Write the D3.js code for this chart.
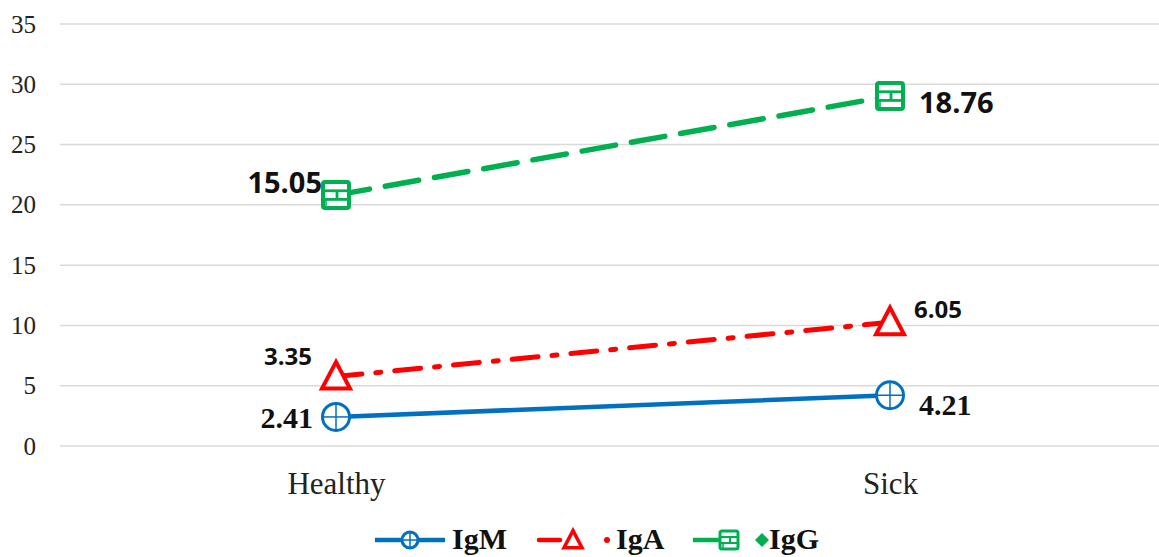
<!DOCTYPE html>
<html><head><meta charset="utf-8">
<script src="https://cdn.jsdelivr.net/npm/d3@7/dist/d3.min.js"></script>
<style>body{margin:0;background:#fff}</style></head>
<body><svg id="c" width="1159" height="557"></svg>
<script>
const categories = ["Healthy", "Sick"];
const igM = [2.41, 4.21];
const igA = [3.35, 6.05];
const igG = [15.05, 18.76];
const yTicks = [0, 5, 10, 15, 20, 25, 30, 35];

const svg = d3.select("#c");
const x = d3.scalePoint().domain(categories).range([336, 890]);
const y = d3.scaleLinear().domain([0, 35]).range([446, 24]);

// grid
svg.append("g").selectAll("line").data(yTicks).join("line")
  .attr("x1", 60).attr("x2", 1159)
  .attr("y1", d => y(d)).attr("y2", d => y(d))
  .attr("stroke", "#d9d9d9").attr("stroke-width", 1.5);

const yAxis = d3.axisLeft(y).tickValues(yTicks).tickSize(0).tickPadding(0);
const ga = svg.append("g").attr("transform", "translate(36,0)").call(yAxis);
ga.select(".domain").remove();
ga.selectAll("text").attr("font-family", "Liberation Serif").attr("font-size", 25).attr("fill", "#222").attr("dy", "0.32em");

const xAxis = d3.axisBottom(x).tickSize(0).tickPadding(0);
const gx = svg.append("g").attr("transform", "translate(0,484)").call(xAxis);
gx.select(".domain").remove();
gx.selectAll("text").attr("font-family", "Liberation Serif").attr("font-size", 31).attr("fill", "#222").attr("dy", "0.32em");

// stacked
const cumM = igM.slice();
const cumA = igA.map((v, i) => v + cumM[i]);
const cumG = igG.map((v, i) => v + cumA[i]);

const series = [
  {name: "IgM", vals: igM, cum: cumM, color: "#0070C0", dash: null, w: 4.5},
  {name: "IgA", vals: igA, cum: cumA, color: "#FF0000", dash: "26,14,5,14", w: 5},
  {name: "IgG", vals: igG, cum: cumG, color: "#00B050", dash: "34,16", w: 5.5}
];

const line = d3.line().x((d, i) => x(categories[i])).y(d => y(d));
series.forEach(s => {
  svg.append("path").attr("d", line(s.cum)).attr("fill", "none")
    .attr("stroke", s.color).attr("stroke-width", s.w)
    .attr("stroke-dasharray", s.dash).attr("stroke-linecap", "round");
});

function circleMarker(g, cx, cy, r, sw) {
  g.append("circle").attr("cx", cx).attr("cy", cy).attr("r", r).attr("fill", "#fff").attr("stroke", "#0070C0").attr("stroke-width", sw);
  g.append("line").attr("x1", cx - r).attr("x2", cx + r).attr("y1", cy).attr("y2", cy).attr("stroke", "#0070C0").attr("stroke-width", 1.5);
  g.append("line").attr("x1", cx).attr("x2", cx).attr("y1", cy - r).attr("y2", cy + r).attr("stroke", "#0070C0").attr("stroke-width", 1.5);
}
function triMarker(g, cx, cy, s, sw) {
  const h = s * 0.95;
  g.append("path").attr("d", `M${cx},${cy - h * 0.55}L${cx + s / 2},${cy + h * 0.45}L${cx - s / 2},${cy + h * 0.45}Z`)
    .attr("fill", "#fff").attr("stroke", "#FF0000").attr("stroke-width", sw).attr("stroke-linejoin", "miter");
}
function sqMarker(g, cx, cy, s, sw) {
  const c = "#00B050";
  g.append("rect").attr("x", cx - s / 2).attr("y", cy - s / 2).attr("width", s).attr("height", s).attr("rx", 2)
    .attr("fill", "#fff").attr("stroke", c).attr("stroke-width", sw);
  const t = cy - s / 6, b = cy + s / 6;
  g.append("line").attr("x1", cx - s / 2).attr("x2", cx + s / 2).attr("y1", t).attr("y2", t).attr("stroke", c).attr("stroke-width", sw * 0.7);
  g.append("line").attr("x1", cx - s / 2).attr("x2", cx + s / 2).attr("y1", b).attr("y2", b).attr("stroke", c).attr("stroke-width", sw * 0.7);
  g.append("line").attr("x1", cx + 1).attr("x2", cx + 1).attr("y1", t).attr("y2", b).attr("stroke", c).attr("stroke-width", sw * 0.7);
  g.append("line").attr("x1", cx - s / 2 + 3).attr("x2", cx - s / 2 + 3).attr("y1", b).attr("y2", cy + s / 2).attr("stroke", c).attr("stroke-width", 1.5);
}

const mk = svg.append("g");
categories.forEach((c, i) => {
  circleMarker(mk, x(c), y(cumM[i]), 13.5, 3);
  triMarker(mk, x(c), y(cumA[i]), 28, 4);
  sqMarker(mk, x(c), y(cumG[i]), 26, 4);
});

// data labels
const lab = svg.append("g").attr("font-weight", "bold").attr("fill", "#111");
function label(txt, xx, yy, anchor, fam, size) {
  lab.append("text").attr("x", xx).attr("y", yy).attr("text-anchor", anchor)
    .style("font-family", fam).attr("font-size", size).text(txt);
}
const sans = "'Open Sans', 'Liberation Sans', sans-serif";
const serif = "'Liberation Serif', serif";
label(igG[0].toFixed(2), 322, y(cumG[0]) - 2, "end", sans, 29);
label(igG[1].toFixed(2), 919, y(cumG[1]) + 17, "start", sans, 29);
label(igA[0].toFixed(2), 312, y(cumA[0]) - 12, "end", sans, 24);
label(igA[1].toFixed(2), 914, y(cumA[1]) - 4, "start", sans, 24);
label(igM[0].toFixed(2), 313, y(cumM[0]) + 11, "end", serif, 30);
label(igM[1].toFixed(2), 919, y(cumM[1]) + 20, "start", serif, 30);

// legend
const lg = svg.append("g");
const ly = 540;
function ltext(txt, xx) {
  lg.append("text").attr("x", xx).attr("y", 549).text(txt)
    .style("font-family", serif).attr("font-weight", "bold").attr("font-size", 30).attr("fill", "#111");
}
lg.append("line").attr("x1", 375).attr("x2", 445).attr("y1", ly).attr("y2", ly).attr("stroke", "#0070C0").attr("stroke-width", 4.5);
circleMarker(lg, 410, ly, 8, 3);
ltext("IgM", 452);
lg.append("line").attr("x1", 539).attr("x2", 560).attr("y1", ly).attr("y2", ly).attr("stroke", "#FF0000").attr("stroke-width", 4.5).attr("stroke-linecap", "round");
triMarker(lg, 573, ly, 18, 3.5);
lg.append("circle").attr("cx", 607).attr("cy", ly).attr("r", 3).attr("fill", "#FF0000");
ltext("IgA", 616);
lg.append("line").attr("x1", 693).attr("x2", 720).attr("y1", ly).attr("y2", ly).attr("stroke", "#00B050").attr("stroke-width", 4.5);
sqMarker(lg, 729, ly, 18, 3);
lg.append("path").attr("d", `M762,${ly - 7}L769,${ly}L762,${ly + 7}L755,${ly}Z`).attr("fill", "#00B050");
ltext("IgG", 769);
</script></body></html>
